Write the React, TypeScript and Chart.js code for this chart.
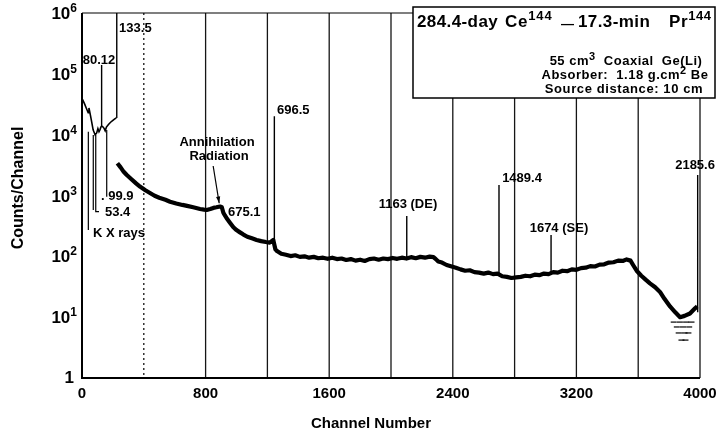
import React, { useEffect, useRef } from "react";
import { Chart, registerables } from "chart.js";

Chart.register(...registerables);

// ---------- axes ----------
const xTickValues = [0, 800, 1600, 2400, 3200, 4000];
const yTickExponents = [0, 1, 2, 3, 4, 5, 6];
const gridChannels = [400, 800, 1200, 1600, 2000, 2400, 2800, 3200, 3600];

// ---------- spectrum below the 133.5 keV peak ----------
const lowChannels = [3, 10, 18, 26, 34, 40, 45, 49, 55, 62, 72, 85, 95, 103, 110, 116, 122, 127, 135, 143, 150, 158, 170, 185, 200, 212, 222];
const lowCounts = [38000, 35000, 31500, 28000, 25000, 23000, 27500, 24500, 20500, 16500, 12000, 9900, 10700, 12600, 11200, 12000, 13300, 13900, 13500, 12700, 11600, 13300, 14600, 16000, 17200, 18200, 18800];

// ---------- main spectrum above 133.5 keV ----------
const mainChannels = [
  229, 250, 270, 290, 320, 350, 375, 410, 440, 470, 500, 540, 570, 610, 650, 680, 720, 764, 790, 807, 830, 850, 870, 893,
  905, 915, 925, 940, 960, 980, 1000, 1020, 1045, 1070, 1100, 1130, 1160, 1190, 1215, 1238,
  1252, 1262, 1290, 1320, 1350, 1380, 1410, 1440, 1470, 1500, 1530, 1560, 1590, 1620, 1650, 1680, 1710, 1740, 1770, 1800,
  1830, 1860, 1890, 1920, 1950, 1980, 2010, 2040, 2070, 2100, 2130, 2160, 2190, 2220, 2250, 2275, 2290, 2306, 2330, 2360,
  2393, 2420, 2450, 2480, 2510, 2540, 2570, 2600, 2630, 2660, 2690, 2720, 2750, 2780, 2810, 2840, 2870, 2900, 2930, 2960,
  2990, 3020, 3050, 3080, 3110, 3140, 3170, 3200, 3230, 3260, 3290, 3320, 3350, 3380, 3410, 3440, 3470, 3500, 3525, 3550,
  3570, 3590, 3620, 3650, 3676, 3710, 3741, 3770, 3806, 3840, 3871, 3900, 3935, 3968, 3982
];
const mainCounts = [
  3400, 2900, 2450, 2170, 1850, 1580, 1400, 1220, 1100, 990, 920, 850, 790, 740, 700, 675, 640, 600, 585, 578, 600, 625, 640, 660,
  640, 520, 470, 410, 350, 300, 270, 250, 228, 210, 198, 186, 178, 172, 168, 185,
  130, 122, 110, 106, 101, 104, 98, 100, 95, 98, 93, 95, 91, 95, 90, 92, 87, 90, 85, 88,
  84, 90, 92, 88, 92, 90, 94, 91, 95, 92, 97, 93, 98, 95, 99, 97, 90, 82, 79, 72,
  68, 65, 61, 58, 59, 55, 54, 52, 54, 51, 52, 47, 46, 44, 45, 46, 48, 47, 50, 49,
  52, 51, 55, 54, 58, 57, 61, 60, 64, 65, 69, 68, 73, 74, 79, 80, 85, 84, 89, 85,
  70, 58, 48, 41, 36, 31, 26, 20, 15, 12, 10, 10.5, 11.5, 14, 15
];

// ---------- low-count dashes at the high-energy end ----------
const tailChannels = [3830, 3870, 3910, 3945, 3850, 3890, 3930, 3862, 3900, 3925, 3880, 3906];
const tailCounts = [8.3, 8.3, 8.3, 8.3, 6.9, 6.9, 6.9, 5.5, 5.5, 5.5, 4.2, 4.2];

// ---------- photopeaks ----------
const peakChannels = [127, 225, 1245, 2102, 2699, 3036, 3985];
const peakBases = [13900, 18800, 180, 95, 51, 53, 12];
const peakTops = [140000, 1000000, 20000, 460, 1490, 224, 2170];

// ---------- annotations (text, channel, counts, align) ----------
const labelTexts = ["133.5", "80.12", ". 99.9", "53.4", "K X rays", "Annihilation", "Radiation", "675.1", "696.5", "1163 (DE)", "1489.4", "1674 (SE)", "2185.6"];
const labelChannels = [240, 110, 123, 149, 71, 874, 887, 945, 1262, 2110, 2848, 3087, 3968];
const labelCounts = [567000, 169000, 982, 526, 242, 7590, 4465, 536, 25450, 725, 1941, 292, 3176];
const labelAligns = ["left", "center", "left", "left", "left", "center", "center", "left", "left", "center", "center", "center", "center"];

// leader lines (channel/count pairs)
const leaderLines = [
  [[41, 11200], [41, 271]],
  [[73, 9900], [73, 578]],
  [[89, 9900], [89, 542], [110, 542]],
  [[160, 11950], [160, 955]],
];
const arrowFrom = [849, 3055];
const arrowTo = [888, 745];

const FONT = '"Liberation Sans", Arial, Helvetica, sans-serif';

function drawRuns(
  ctx: CanvasRenderingContext2D,
  runs: { t: string; sup?: boolean }[],
  x: number,
  y: number,
  size: number,
  supSize: number,
  rise: number,
  align: "left" | "center" | "right",
  spacing = 0
) {
  (ctx as any).letterSpacing = spacing + "px";
  let total = 0;
  const widths = runs.map((r) => {
    ctx.font = `bold ${r.sup ? supSize : size}px ${FONT}`;
    const w = ctx.measureText(r.t).width;
    total += w;
    return w;
  });
  let cx = align === "left" ? x : align === "center" ? x - total / 2 : x - total;
  ctx.textAlign = "left";
  ctx.textBaseline = "alphabetic";
  runs.forEach((r, i) => {
    ctx.font = `bold ${r.sup ? supSize : size}px ${FONT}`;
    ctx.fillText(r.t, cx, r.sup ? y - rise : y);
    cx += widths[i];
  });
  (ctx as any).letterSpacing = "0px";
}

const decor = {
  id: "decor",
  beforeDatasetsDraw(chart: any) {
    const { ctx, chartArea: a, scales } = chart;
    const x = scales.x;
    ctx.save();
    ctx.strokeStyle = "#151515";
    ctx.lineWidth = 1.3;
    gridChannels.forEach((c) => {
      const px = x.getPixelForValue(c);
      ctx.beginPath();
      ctx.setLineDash(c === 400 ? [2, 3] : []);
      ctx.moveTo(px, a.top);
      ctx.lineTo(px, a.bottom);
      ctx.stroke();
    });
    ctx.restore();
  },
  afterDatasetsDraw(chart: any) {
    const { ctx, chartArea: a, scales } = chart;
    const x = scales.x;
    const y = scales.y;
    ctx.save();
    ctx.setLineDash([]);
    ctx.strokeStyle = "#000";
    ctx.fillStyle = "#000";

    // frame
    ctx.lineWidth = 1.2;
    ctx.beginPath();
    ctx.moveTo(a.left, a.top);
    ctx.lineTo(a.right, a.top);
    ctx.moveTo(a.right, a.top);
    ctx.lineTo(a.right, a.bottom);
    ctx.stroke();
    ctx.lineWidth = 2;
    ctx.beginPath();
    ctx.moveTo(a.left, a.top);
    ctx.lineTo(a.left, a.bottom);
    ctx.lineTo(a.right, a.bottom);
    ctx.stroke();

    // leader lines
    ctx.lineWidth = 1.2;
    leaderLines.forEach((pts) => {
      ctx.beginPath();
      pts.forEach((p, i) => {
        const px = x.getPixelForValue(p[0]);
        const py = y.getPixelForValue(p[1]);
        if (i === 0) ctx.moveTo(px, py);
        else ctx.lineTo(px, py);
      });
      ctx.stroke();
    });
    // arrow
    const ax0 = x.getPixelForValue(arrowFrom[0]);
    const ay0 = y.getPixelForValue(arrowFrom[1]);
    const ax1 = x.getPixelForValue(arrowTo[0]);
    const ay1 = y.getPixelForValue(arrowTo[1]);
    ctx.beginPath();
    ctx.moveTo(ax0, ay0);
    ctx.lineTo(ax1, ay1);
    ctx.stroke();
    const ang = Math.atan2(ay1 - ay0, ax1 - ax0);
    ctx.beginPath();
    ctx.moveTo(ax1, ay1);
    ctx.lineTo(ax1 - 7 * Math.cos(ang - 0.3), ay1 - 7 * Math.sin(ang - 0.3));
    ctx.lineTo(ax1 - 7 * Math.cos(ang + 0.3), ay1 - 7 * Math.sin(ang + 0.3));
    ctx.closePath();
    ctx.fill();

    // annotation labels
    ctx.font = `bold 13px ${FONT}`;
    ctx.textBaseline = "middle";
    labelTexts.forEach((t, i) => {
      ctx.textAlign = labelAligns[i] as CanvasTextAlign;
      ctx.fillText(t, x.getPixelForValue(labelChannels[i]), y.getPixelForValue(labelCounts[i]));
    });

    // info box
    const bx = 413, by = 7, bw = 302, bh = 91;
    ctx.fillStyle = "#fff";
    ctx.fillRect(bx, by, bw, bh);
    ctx.lineWidth = 1.5;
    ctx.strokeRect(bx, by, bw, bh);
    ctx.fillStyle = "#000";
    drawRuns(ctx, [{ t: "284.4-day" }], 417, 27, 17, 13, 7, "left", 0.4);
    drawRuns(ctx, [{ t: "Ce" }, { t: "144", sup: true }], 505, 27, 17, 13, 7, "left", 0.8);
    drawRuns(ctx, [{ t: "\u2014" }], 561, 28, 13, 13, 7, "left");
    drawRuns(ctx, [{ t: "17.3-min" }], 578, 27, 17, 13, 7, "left", 0.4);
    drawRuns(ctx, [{ t: "Pr" }, { t: "144", sup: true }], 669, 27, 17, 13, 7, "left", 0.6);
    drawRuns(ctx, [{ t: "55 cm" }, { t: "3", sup: true }, { t: "  Coaxial  Ge(Li)" }], 626, 65, 13, 11, 5, "center", 0.5);
    drawRuns(ctx, [{ t: "Absorber:  1.18 g.cm" }, { t: "2", sup: true }, { t: " Be" }], 625, 79, 13, 11, 5, "center", 0.5);
    drawRuns(ctx, [{ t: "Source distance: 10 cm" }], 624, 93, 13, 11, 5, "center", 0.6);

    // x tick labels
    ctx.font = `bold 15px ${FONT}`;
    ctx.textAlign = "center";
    ctx.textBaseline = "middle";
    xTickValues.forEach((v) => {
      ctx.fillText(String(v), x.getPixelForValue(v), a.bottom + 16);
    });
    // y tick labels
    yTickExponents.forEach((e) => {
      const py = y.getPixelForValue(Math.pow(10, e));
      if (e === 0) {
        ctx.font = `bold 17px ${FONT}`;
        ctx.textAlign = "right";
        ctx.textBaseline = "middle";
        ctx.fillText("1", a.left - 8, py);
      } else {
        drawRuns(ctx, [{ t: "10" }, { t: String(e), sup: true }], a.left - 5, py + 6, 17, 12, 7, "right");
      }
    });

    // axis titles
    ctx.font = `bold 15px ${FONT}`;
    ctx.textAlign = "center";
    ctx.textBaseline = "middle";
    ctx.fillText("Channel Number", 371, 424);
    ctx.save();
    ctx.translate(19, 188);
    ctx.rotate(-Math.PI / 2);
    ctx.font = `bold 16px ${FONT}`;
    ctx.fillText("Counts/Channel", 0, 0);
    ctx.restore();

    ctx.restore();
  },
};

export default function App() {
  const ref = useRef<HTMLCanvasElement>(null);
  useEffect(() => {
    if (!ref.current) return;
    const toXY = (xs: number[], ys: number[]) => xs.map((c, i) => ({ x: c, y: ys[i] }));
    const peakData: any[] = [];
    peakChannels.forEach((c, i) => {
      peakData.push({ x: c, y: peakBases[i] }, { x: c, y: peakTops[i] }, { x: c, y: null });
    });
    const chart = new Chart(ref.current, {
      type: "line",
      data: {
        datasets: [
          { data: toXY(lowChannels, lowCounts), borderColor: "#000", borderWidth: 1.6, pointRadius: 0, tension: 0 },
          { data: toXY(mainChannels, mainCounts), borderColor: "#000", borderWidth: 4.2, pointRadius: 0, tension: 0, borderJoinStyle: "round" },
          { data: peakData, borderColor: "#000", borderWidth: 1.4, pointRadius: 0, spanGaps: false },
          { data: toXY(tailChannels, tailCounts), showLine: false, pointStyle: "line", pointRadius: 3, borderColor: "#000", borderWidth: 1.2 },
        ],
      },
      options: {
        animation: false,
        responsive: false,
        layout: { padding: { left: 82, right: 19, top: 13, bottom: 61 } },
        plugins: { legend: { display: false }, tooltip: { enabled: false } },
        scales: {
          x: { type: "linear", min: 0, max: 4000, display: false },
          y: { type: "logarithmic", min: 1, max: 1000000, display: false },
        },
      },
      plugins: [decor],
    });
    return () => chart.destroy();
  }, []);
  return (
    <div style={{ position: "fixed", left: 0, top: 0, width: 719, height: 439, background: "#fff" }}>
      <canvas ref={ref} width={719} height={439} style={{ display: "block" }} />
    </div>
  );
}
